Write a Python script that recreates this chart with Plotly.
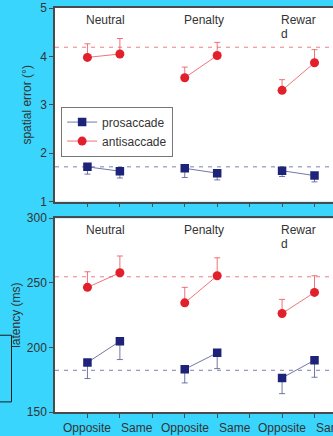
import plotly.graph_objects as go

# ---- data ----
conditions = ["Neutral", "Penalty", "Rewar<br>d"]
directions = ["Opposite", "Same"]
series_names = ["prosaccade", "antisaccade"]

# spatial error (deg): Opp, Same for Neutral, Penalty, Reward
pro_err = [1.72, 1.63, 1.69, 1.59, 1.64, 1.54]
pro_err_low = [1.57, 1.49, 1.50, 1.45, 1.52, 1.41]
anti_err = [3.98, 4.05, 3.56, 4.02, 3.30, 3.87]
anti_err_high = [4.26, 4.37, 3.78, 4.29, 3.52, 4.14]
ref_err = {"prosaccade": 1.72, "antisaccade": 4.19}

# latency (ms)
pro_lat = [188.3, 204.8, 183.1, 195.8, 176.4, 190.1]
pro_lat_low = [175.9, 190.6, 172.5, 183.6, 164.2, 176.9]
anti_lat = [246.5, 257.8, 234.5, 255.5, 226.3, 242.6]
anti_lat_high = [258.6, 270.8, 246.5, 269.4, 237.2, 255.5]
ref_lat = {"prosaccade": 182.3, "antisaccade": 254.7}

err_ticks = [1, 2, 3, 4, 5]
lat_ticks = [150, 200, 250, 300]

# ---- styling ----
BG = "#3ad5fc"
RED = "#e2202c"
RED_L = "rgba(236,90,98,0.85)"
NAVY = "#1d2378"
NAVY_L = "rgba(90,94,150,0.85)"
AX = "#4a4a4a"
TXT = "#333333"
FONT = "Liberation Sans, Arial, sans-serif"


def gapped(vals):
    xs, ys = [], []
    for ci in range(len(conditions)):
        for di in range(len(directions)):
            xs.append(ci * 3 + di + 1)
            ys.append(vals[ci * 2 + di])
        xs.append(None)
        ys.append(None)
    return xs, ys


def gapped_list(vals):
    out = []
    for ci in range(len(conditions)):
        out += [vals[ci * 2], vals[ci * 2 + 1], None]
    return out


fig = go.Figure()


def add_series(mean, bound, upper, color, lcolor, symbol, name, xa, ya, showlegend):
    xs, ys = gapped(mean)
    if upper:
        e = [b - m for m, b in zip(mean, bound)]
        ep, em = gapped_list(e), gapped_list([0] * len(e))
    else:
        e = [m - b for m, b in zip(mean, bound)]
        ep, em = gapped_list([0] * len(e)), gapped_list(e)
    fig.add_trace(go.Scatter(
        x=xs, y=ys, mode="lines+markers", name=name, xaxis=xa, yaxis=ya,
        showlegend=showlegend, connectgaps=False,
        line=dict(color=lcolor, width=1),
        marker=dict(color=color, size=9 if symbol == "circle" else 8.5, symbol=symbol,
                    line=dict(width=0)),
        error_y=dict(type="data", symmetric=False, array=ep, arrayminus=em,
                     color=lcolor, thickness=1, width=3),
    ))


add_series(pro_err, pro_err_low, False, NAVY, NAVY_L, "square", series_names[0], "x", "y", True)
add_series(anti_err, anti_err_high, True, RED, RED_L, "circle", series_names[1], "x", "y", True)
add_series(pro_lat, pro_lat_low, False, NAVY, NAVY_L, "square", series_names[0], "x2", "y2", False)
add_series(anti_lat, anti_lat_high, True, RED, RED_L, "circle", series_names[1], "x2", "y2", False)

shapes = []
for xa, ya, refs in [("x", "y", ref_err), ("x2", "y2", ref_lat)]:
    for nm, col in [("prosaccade", "rgba(110,112,170,0.9)"), ("antisaccade", "rgba(238,110,115,0.9)")]:
        shapes.append(dict(type="line", xref=xa + " domain", yref=ya, x0=0, x1=1,
                           y0=refs[nm], y1=refs[nm], layer="below",
                           line=dict(color=col, width=1, dash="4px,5px")))
# stray box at left edge (part of a neighbouring panel)
shapes.append(dict(type="rect", xref="paper", yref="paper", x0=-0.25, x1=-0.1565,
                   y0=0.025, y1=0.19, line=dict(color="#1a1a1a", width=1),
                   fillcolor="rgba(0,0,0,0)"))

annotations = []
for xa, ya in [("x", "y"), ("x2", "y2")]:
    for ci, c in enumerate(conditions):
        for li, line in enumerate(c.split("<br>")):
            annotations.append(dict(text=line, xref=xa, yref=ya + " domain", x=ci * 3 + 0.9, y=0.985,
                                    yshift=-14 * li,
                                    xanchor="left", yanchor="top", showarrow=False, align="left",
                                    font=dict(size=12, color=TXT, family=FONT)))
# x labels for bottom panel
for ci in range(len(conditions)):
    annotations.append(dict(text=directions[0], xref="x2", yref="paper", x=ci * 3 + 1, y=-0.018,
                            xanchor="center", yanchor="top", showarrow=False,
                            font=dict(size=12, color=TXT, family=FONT)))
    annotations.append(dict(text=directions[1], xref="x2", yref="paper", x=ci * 3 + 1.98, y=-0.018,
                            xanchor="left", yanchor="top", showarrow=False,
                            font=dict(size=12, color=TXT, family=FONT)))

xcommon = dict(range=[0, 8.57], tickvals=list(range(1, 10)), ticktext=[""] * 9,
               ticks="outside", ticklen=4, tickcolor=AX, showline=True, linecolor=AX,
               linewidth=1.5, mirror=True, showgrid=False, zeroline=False, automargin=False)
ycommon = dict(ticks="outside", ticklen=4, tickcolor=AX, showline=True, linecolor=AX,
               linewidth=1.5, showgrid=False, zeroline=False, automargin=False,
               tickfont=dict(size=12, color=TXT, family=FONT),
               title_font=dict(size=12, color=TXT, family=FONT))

fig.update_layout(
    template="none",
    width=333, height=436, paper_bgcolor=BG, plot_bgcolor="white",
    margin=dict(l=55, r=0, t=8, b=24, autoexpand=False),
    font=dict(family=FONT, color=TXT, size=12),
    xaxis=dict(anchor="y", **xcommon),
    xaxis2=dict(anchor="y2", **xcommon),
    yaxis=dict(domain=[0.5205, 1], range=[1, 5], tickvals=err_ticks,
               title=dict(text="spatial error (°)", standoff=6), anchor="x", **ycommon),
    yaxis2=dict(domain=[0, 0.4795], range=[150, 300], tickvals=lat_ticks,
                title=dict(text="latency (ms)", standoff=4), anchor="x2", **ycommon),
    legend=dict(x=0.022, y=0.756, xanchor="left", yanchor="top", bgcolor="white",
                bordercolor="#777777", borderwidth=1, font=dict(size=12, color=TXT, family=FONT),
                tracegroupgap=0, itemwidth=30, entrywidth=112, entrywidthmode="pixels"),
    shapes=shapes, annotations=annotations,
)

fig.write_html("out.html", config={"displayModeBar": False},
               post_script="document.body.style.margin='0px';document.body.style.overflow='hidden';")
